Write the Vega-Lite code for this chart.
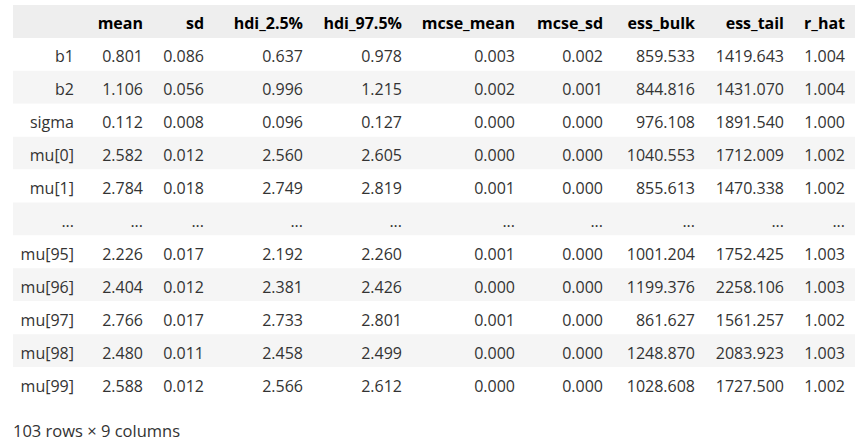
{
  "$schema": "https://vega.github.io/schema/vega-lite/v6.json",
  "padding": {"left": 13, "top": 5, "right": 5, "bottom": 5},
  "background": "white",
  "title": {
    "text": "103 rows × 9 columns",
    "orient": "bottom",
    "anchor": "start",
    "offset": 24,
    "font": "Open Sans",
    "fontSize": 16.5,
    "fontWeight": "normal",
    "color": "#333333"
  },
  "data": {
    "values": [
      {"idx": "", "mean": "mean", "sd": "sd", "hdi_lo": "hdi_2.5%", "hdi_hi": "hdi_97.5%", "mcse_mean": "mcse_mean", "mcse_sd": "mcse_sd", "ess_bulk": "ess_bulk", "ess_tail": "ess_tail", "r_hat": "r_hat"},
      {"idx": "b1", "mean": "0.801", "sd": "0.086", "hdi_lo": "0.637", "hdi_hi": "0.978", "mcse_mean": "0.003", "mcse_sd": "0.002", "ess_bulk": "859.533", "ess_tail": "1419.643", "r_hat": "1.004"},
      {"idx": "b2", "mean": "1.106", "sd": "0.056", "hdi_lo": "0.996", "hdi_hi": "1.215", "mcse_mean": "0.002", "mcse_sd": "0.001", "ess_bulk": "844.816", "ess_tail": "1431.070", "r_hat": "1.004"},
      {"idx": "sigma", "mean": "0.112", "sd": "0.008", "hdi_lo": "0.096", "hdi_hi": "0.127", "mcse_mean": "0.000", "mcse_sd": "0.000", "ess_bulk": "976.108", "ess_tail": "1891.540", "r_hat": "1.000"},
      {"idx": "mu[0]", "mean": "2.582", "sd": "0.012", "hdi_lo": "2.560", "hdi_hi": "2.605", "mcse_mean": "0.000", "mcse_sd": "0.000", "ess_bulk": "1040.553", "ess_tail": "1712.009", "r_hat": "1.002"},
      {"idx": "mu[1]", "mean": "2.784", "sd": "0.018", "hdi_lo": "2.749", "hdi_hi": "2.819", "mcse_mean": "0.001", "mcse_sd": "0.000", "ess_bulk": "855.613", "ess_tail": "1470.338", "r_hat": "1.002"},
      {"idx": "...", "mean": "...", "sd": "...", "hdi_lo": "...", "hdi_hi": "...", "mcse_mean": "...", "mcse_sd": "...", "ess_bulk": "...", "ess_tail": "...", "r_hat": "..."},
      {"idx": "mu[95]", "mean": "2.226", "sd": "0.017", "hdi_lo": "2.192", "hdi_hi": "2.260", "mcse_mean": "0.001", "mcse_sd": "0.000", "ess_bulk": "1001.204", "ess_tail": "1752.425", "r_hat": "1.003"},
      {"idx": "mu[96]", "mean": "2.404", "sd": "0.012", "hdi_lo": "2.381", "hdi_hi": "2.426", "mcse_mean": "0.000", "mcse_sd": "0.000", "ess_bulk": "1199.376", "ess_tail": "2258.106", "r_hat": "1.003"},
      {"idx": "mu[97]", "mean": "2.766", "sd": "0.017", "hdi_lo": "2.733", "hdi_hi": "2.801", "mcse_mean": "0.001", "mcse_sd": "0.000", "ess_bulk": "861.627", "ess_tail": "1561.257", "r_hat": "1.002"},
      {"idx": "mu[98]", "mean": "2.480", "sd": "0.011", "hdi_lo": "2.458", "hdi_hi": "2.499", "mcse_mean": "0.000", "mcse_sd": "0.000", "ess_bulk": "1248.870", "ess_tail": "2083.923", "r_hat": "1.003"},
      {"idx": "mu[99]", "mean": "2.588", "sd": "0.012", "hdi_lo": "2.566", "hdi_hi": "2.612", "mcse_mean": "0.000", "mcse_sd": "0.000", "ess_bulk": "1028.608", "ess_tail": "1727.500", "r_hat": "1.002"}
    ]
  },
  "transform": [
    {"window": [{"op": "row_number", "as": "rn"}]}
  ],
  "spacing": 0,
  "bounds": "flush",
  "hconcat": [
    {"width": 71, "height": 395, "encoding": {"y": {"field": "rn", "type": "ordinal", "axis": null, "scale": {"paddingInner": 0, "paddingOuter": 0}}}, "layer": [
      {"mark": {"type": "rect"}, "encoding": {"fill": {"condition": [{"test": "datum.rn == 1", "value": "#eeeeee"}, {"test": "datum.rn % 2 == 1", "value": "#f5f5f5"}], "value": "#ffffff"}}},
      {"transform": [{"filter": "datum.rn > 1"}], "mark": {"type": "text", "x": "width", "dx": -10, "dy": 3, "align": "right", "font": "Open Sans", "fontSize": 16, "color": "#333333"}, "encoding": {"text": {"field": "idx"}}},
      {"transform": [{"filter": "datum.rn == 1"}], "mark": {"type": "text", "x": "width", "dx": -10, "dy": 3, "align": "right", "font": "Open Sans", "fontSize": 16, "fontWeight": "bold", "color": "#000000"}, "encoding": {"text": {"field": "idx"}}}
    ]},
    {"width": 69, "height": 395, "encoding": {"y": {"field": "rn", "type": "ordinal", "axis": null, "scale": {"paddingInner": 0, "paddingOuter": 0}}}, "layer": [
      {"mark": {"type": "rect"}, "encoding": {"fill": {"condition": [{"test": "datum.rn == 1", "value": "#eeeeee"}, {"test": "datum.rn % 2 == 1", "value": "#f5f5f5"}], "value": "#ffffff"}}},
      {"transform": [{"filter": "datum.rn > 1"}], "mark": {"type": "text", "x": "width", "dx": -10, "dy": 3, "align": "right", "font": "Open Sans", "fontSize": 16, "color": "#333333"}, "encoding": {"text": {"field": "mean"}}},
      {"transform": [{"filter": "datum.rn == 1"}], "mark": {"type": "text", "x": "width", "dx": -10, "dy": 3, "align": "right", "font": "Open Sans", "fontSize": 16, "fontWeight": "bold", "color": "#000000"}, "encoding": {"text": {"field": "mean"}}}
    ]},
    {"width": 61, "height": 395, "encoding": {"y": {"field": "rn", "type": "ordinal", "axis": null, "scale": {"paddingInner": 0, "paddingOuter": 0}}}, "layer": [
      {"mark": {"type": "rect"}, "encoding": {"fill": {"condition": [{"test": "datum.rn == 1", "value": "#eeeeee"}, {"test": "datum.rn % 2 == 1", "value": "#f5f5f5"}], "value": "#ffffff"}}},
      {"transform": [{"filter": "datum.rn > 1"}], "mark": {"type": "text", "x": "width", "dx": -10, "dy": 3, "align": "right", "font": "Open Sans", "fontSize": 16, "color": "#333333"}, "encoding": {"text": {"field": "sd"}}},
      {"transform": [{"filter": "datum.rn == 1"}], "mark": {"type": "text", "x": "width", "dx": -10, "dy": 3, "align": "right", "font": "Open Sans", "fontSize": 16, "fontWeight": "bold", "color": "#000000"}, "encoding": {"text": {"field": "sd"}}}
    ]},
    {"width": 99, "height": 395, "encoding": {"y": {"field": "rn", "type": "ordinal", "axis": null, "scale": {"paddingInner": 0, "paddingOuter": 0}}}, "layer": [
      {"mark": {"type": "rect"}, "encoding": {"fill": {"condition": [{"test": "datum.rn == 1", "value": "#eeeeee"}, {"test": "datum.rn % 2 == 1", "value": "#f5f5f5"}], "value": "#ffffff"}}},
      {"transform": [{"filter": "datum.rn > 1"}], "mark": {"type": "text", "x": "width", "dx": -10, "dy": 3, "align": "right", "font": "Open Sans", "fontSize": 16, "color": "#333333"}, "encoding": {"text": {"field": "hdi_lo"}}},
      {"transform": [{"filter": "datum.rn == 1"}], "mark": {"type": "text", "x": "width", "dx": -10, "dy": 3, "align": "right", "font": "Open Sans", "fontSize": 16, "fontWeight": "bold", "color": "#000000"}, "encoding": {"text": {"field": "hdi_lo"}}}
    ]},
    {"width": 99, "height": 395, "encoding": {"y": {"field": "rn", "type": "ordinal", "axis": null, "scale": {"paddingInner": 0, "paddingOuter": 0}}}, "layer": [
      {"mark": {"type": "rect"}, "encoding": {"fill": {"condition": [{"test": "datum.rn == 1", "value": "#eeeeee"}, {"test": "datum.rn % 2 == 1", "value": "#f5f5f5"}], "value": "#ffffff"}}},
      {"transform": [{"filter": "datum.rn > 1"}], "mark": {"type": "text", "x": "width", "dx": -10, "dy": 3, "align": "right", "font": "Open Sans", "fontSize": 16, "color": "#333333"}, "encoding": {"text": {"field": "hdi_hi"}}},
      {"transform": [{"filter": "datum.rn == 1"}], "mark": {"type": "text", "x": "width", "dx": -10, "dy": 3, "align": "right", "font": "Open Sans", "fontSize": 16, "fontWeight": "bold", "color": "#000000"}, "encoding": {"text": {"field": "hdi_hi"}}}
    ]},
    {"width": 113, "height": 395, "encoding": {"y": {"field": "rn", "type": "ordinal", "axis": null, "scale": {"paddingInner": 0, "paddingOuter": 0}}}, "layer": [
      {"mark": {"type": "rect"}, "encoding": {"fill": {"condition": [{"test": "datum.rn == 1", "value": "#eeeeee"}, {"test": "datum.rn % 2 == 1", "value": "#f5f5f5"}], "value": "#ffffff"}}},
      {"transform": [{"filter": "datum.rn > 1"}], "mark": {"type": "text", "x": "width", "dx": -10, "dy": 3, "align": "right", "font": "Open Sans", "fontSize": 16, "color": "#333333"}, "encoding": {"text": {"field": "mcse_mean"}}},
      {"transform": [{"filter": "datum.rn == 1"}], "mark": {"type": "text", "x": "width", "dx": -10, "dy": 3, "align": "right", "font": "Open Sans", "fontSize": 16, "fontWeight": "bold", "color": "#000000"}, "encoding": {"text": {"field": "mcse_mean"}}}
    ]},
    {"width": 88, "height": 395, "encoding": {"y": {"field": "rn", "type": "ordinal", "axis": null, "scale": {"paddingInner": 0, "paddingOuter": 0}}}, "layer": [
      {"mark": {"type": "rect"}, "encoding": {"fill": {"condition": [{"test": "datum.rn == 1", "value": "#eeeeee"}, {"test": "datum.rn % 2 == 1", "value": "#f5f5f5"}], "value": "#ffffff"}}},
      {"transform": [{"filter": "datum.rn > 1"}], "mark": {"type": "text", "x": "width", "dx": -10, "dy": 3, "align": "right", "font": "Open Sans", "fontSize": 16, "color": "#333333"}, "encoding": {"text": {"field": "mcse_sd"}}},
      {"transform": [{"filter": "datum.rn == 1"}], "mark": {"type": "text", "x": "width", "dx": -10, "dy": 3, "align": "right", "font": "Open Sans", "fontSize": 16, "fontWeight": "bold", "color": "#000000"}, "encoding": {"text": {"field": "mcse_sd"}}}
    ]},
    {"width": 92, "height": 395, "encoding": {"y": {"field": "rn", "type": "ordinal", "axis": null, "scale": {"paddingInner": 0, "paddingOuter": 0}}}, "layer": [
      {"mark": {"type": "rect"}, "encoding": {"fill": {"condition": [{"test": "datum.rn == 1", "value": "#eeeeee"}, {"test": "datum.rn % 2 == 1", "value": "#f5f5f5"}], "value": "#ffffff"}}},
      {"transform": [{"filter": "datum.rn > 1"}], "mark": {"type": "text", "x": "width", "dx": -10, "dy": 3, "align": "right", "font": "Open Sans", "fontSize": 16, "color": "#333333"}, "encoding": {"text": {"field": "ess_bulk"}}},
      {"transform": [{"filter": "datum.rn == 1"}], "mark": {"type": "text", "x": "width", "dx": -10, "dy": 3, "align": "right", "font": "Open Sans", "fontSize": 16, "fontWeight": "bold", "color": "#000000"}, "encoding": {"text": {"field": "ess_bulk"}}}
    ]},
    {"width": 89, "height": 395, "encoding": {"y": {"field": "rn", "type": "ordinal", "axis": null, "scale": {"paddingInner": 0, "paddingOuter": 0}}}, "layer": [
      {"mark": {"type": "rect"}, "encoding": {"fill": {"condition": [{"test": "datum.rn == 1", "value": "#eeeeee"}, {"test": "datum.rn % 2 == 1", "value": "#f5f5f5"}], "value": "#ffffff"}}},
      {"transform": [{"filter": "datum.rn > 1"}], "mark": {"type": "text", "x": "width", "dx": -10, "dy": 3, "align": "right", "font": "Open Sans", "fontSize": 16, "color": "#333333"}, "encoding": {"text": {"field": "ess_tail"}}},
      {"transform": [{"filter": "datum.rn == 1"}], "mark": {"type": "text", "x": "width", "dx": -10, "dy": 3, "align": "right", "font": "Open Sans", "fontSize": 16, "fontWeight": "bold", "color": "#000000"}, "encoding": {"text": {"field": "ess_tail"}}}
    ]},
    {"width": 61, "height": 395, "encoding": {"y": {"field": "rn", "type": "ordinal", "axis": null, "scale": {"paddingInner": 0, "paddingOuter": 0}}}, "layer": [
      {"mark": {"type": "rect"}, "encoding": {"fill": {"condition": [{"test": "datum.rn == 1", "value": "#eeeeee"}, {"test": "datum.rn % 2 == 1", "value": "#f5f5f5"}], "value": "#ffffff"}}},
      {"transform": [{"filter": "datum.rn > 1"}], "mark": {"type": "text", "x": "width", "dx": -10, "dy": 3, "align": "right", "font": "Open Sans", "fontSize": 16, "color": "#333333"}, "encoding": {"text": {"field": "r_hat"}}},
      {"transform": [{"filter": "datum.rn == 1"}], "mark": {"type": "text", "x": "width", "dx": -10, "dy": 3, "align": "right", "font": "Open Sans", "fontSize": 16, "fontWeight": "bold", "color": "#000000"}, "encoding": {"text": {"field": "r_hat"}}}
    ]}
  ],
  "config": {
    "view": {"stroke": null},
    "concat": {"spacing": 0}
  }
}
